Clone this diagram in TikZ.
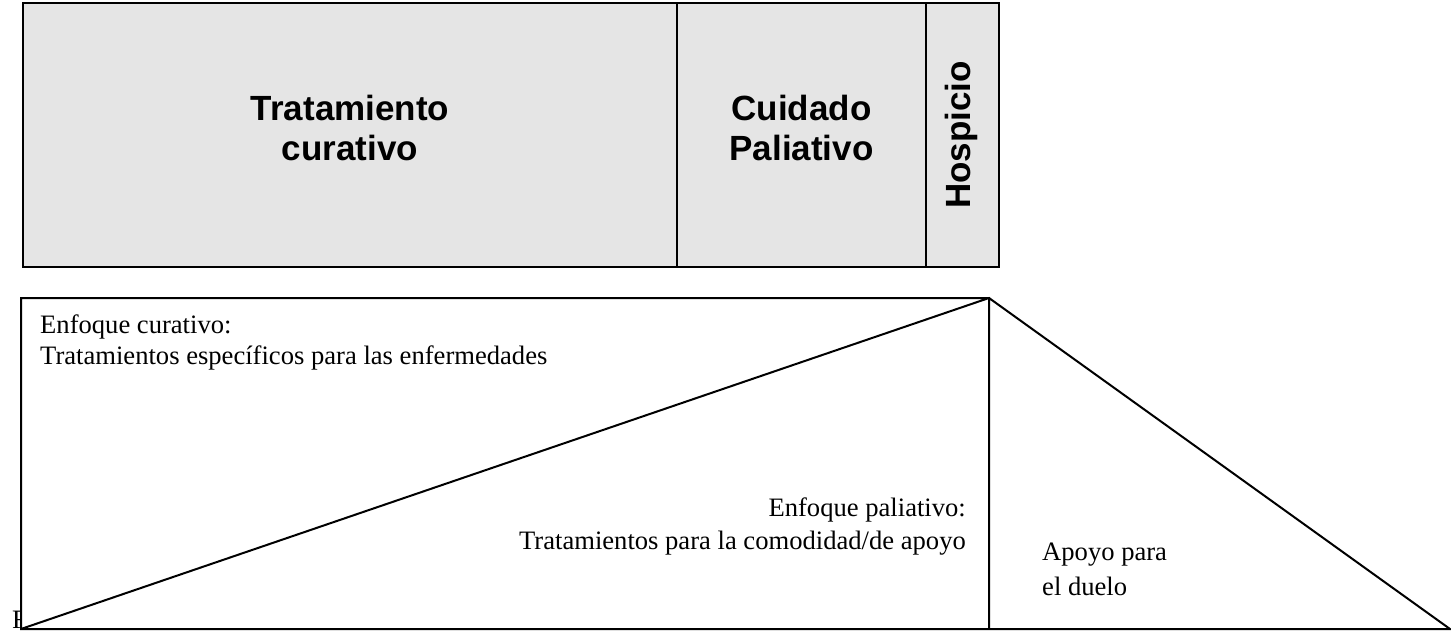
\documentclass[tikz,border=0pt]{standalone}
\usepackage{fontspec}
\setmainfont{Liberation Serif}
\setsansfont{Liberation Sans}
\begin{document}
\begin{tikzpicture}[x=1pt,y=-1pt,
  band/.style={draw,line width=2.5pt,fill=black!10},
  frame line/.style={draw,line width=2pt,line join=miter},
  title/.style={font=\sffamily\bfseries\fontsize{35}{40}\selectfont,align=center,inner sep=0pt},
  note/.style={font=\fontsize{26.6}{31}\selectfont,inner sep=0pt}]

  \useasboundingbox (0,0) rectangle (1451,631);

  % top band
  \coordinate (tl) at (23,3);
  \coordinate (br) at (999,267);
  \path[band] (tl) rectangle (br);
  \draw[line width=2pt] (677,3) -- (677,267);
  \draw[line width=2pt] (926,3) -- (926,267);

  \node[title] (cur) at (350,127.5) {Tratamiento\\curativo};
  \node[title] (pal) at (801.5,127.5) {Cuidado\\Paliativo};
  \node[title,rotate=90] (hos) at (961,135) {Hospicio};

  % lower frame
  \node[note,anchor=base west] (f) at (12,628) {F};
  \coordinate (o) at (21,629);
  \coordinate (ftop) at (21,298);
  \coordinate (apex) at (989,298);
  \coordinate (mid) at (989,629);
  \coordinate (end) at (1450,629);
  \fill[white] (o) rectangle (apex);
  \path[frame line] (mid) -- (o) -- (ftop) -- (apex) -- (mid) -- (end) -- (apex) -- (o);

  \node[note,anchor=base west] (c1) at (40,333) {Enfoque curativo:};
  \node[note,anchor=base west] (c2) at (40,364) {Tratamientos específicos para las enfermedades};
  \node[note,anchor=base east] (p1) at (966,516) {Enfoque paliativo:};
  \node[note,anchor=base east] (p2) at (966,549) {Tratamientos para la comodidad/de apoyo};
  \node[note,anchor=base west] (d1) at (1042,560) {Apoyo para};
  \node[note,anchor=base west] (d2) at (1042,595) {el duelo};
\end{tikzpicture}
\end{document}
